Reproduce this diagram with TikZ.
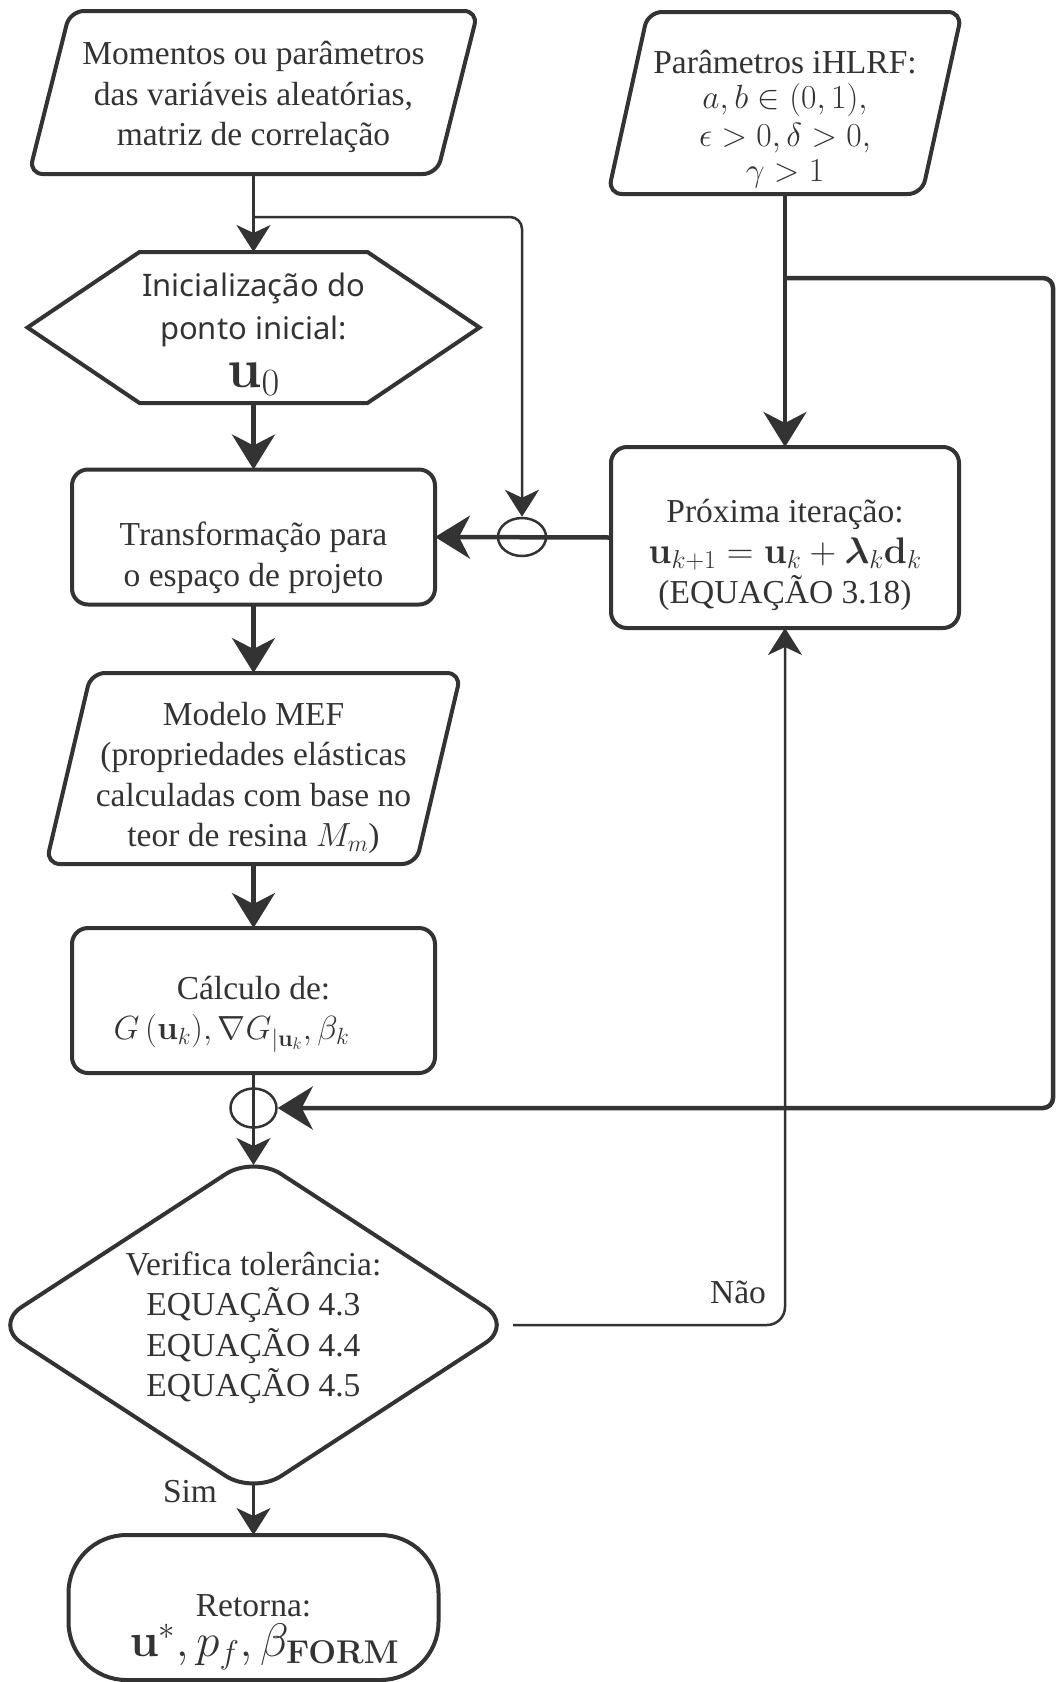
\RequirePackage{fix-cm}
\documentclass[tikz,border=0pt]{standalone}
\usepackage{amsmath,amssymb}
\usepackage[no-math]{fontspec}
\usepackage{bm}
\setmainfont{Liberation Serif}
\newfontfamily\hexfont{Noto Sans}
\usetikzlibrary{arrows.meta,shapes.geometric}
\definecolor{ln}{HTML}{333333}
\definecolor{tx}{HTML}{333333}
\newcommand\mathsz[2]{{\fontsize{#1}{#1}\selectfont$#2$}}
\begin{document}
\begin{tikzpicture}[x=1pt,y=-1pt,
 outline/.style={draw=ln,line width=4pt,line join=round},
 holder/.style={rectangle,inner sep=0pt,outer sep=0pt},
 boxr/.style={holder,draw=ln,line width=4pt,rounded corners=16pt},
 txt/.style={text=tx,align=center,inner sep=0pt,font=\fontsize{33.5pt}{40.5pt}\selectfont},
 thickc/.style={draw=ln,line width=4.5pt},
 thinc/.style={draw=ln,line width=2.5pt},
 bigtip/.style={-{Stealth[length=35pt,width=43pt,inset=11pt]}},
 smalltip/.style={-{Stealth[length=27pt,width=34pt,inset=8pt]}},
 junc/.style={ellipse,draw=ln,line width=2.5pt,inner sep=0pt},
]
\useasboundingbox (0,0) rectangle (1056,1682);

% input box 1
\node[holder,minimum width=408pt,minimum height=163pt] (b1) at (253.5,92.5) {};
\draw[outline,rounded corners=14pt] ([xshift=20.5pt]b1.north west) -- ([xshift=20.5pt]b1.north east) -- ([xshift=-20.5pt]b1.south east) -- ([xshift=-20.5pt]b1.south west) -- cycle;
\node[txt] (t1) at (253.5,97) {Momentos ou parâmetros\\das variáveis aleatórias,\\matriz de correlação};

% input box 2
\node[holder,minimum width=314pt,minimum height=182pt] (b2) at (785,103) {};
\draw[outline,rounded corners=14pt] ([xshift=20pt]b2.north west) -- ([xshift=20pt]b2.north east) -- ([xshift=-20pt]b2.south east) -- ([xshift=-20pt]b2.south west) -- cycle;
\node[txt,anchor=base] (t2a) at (785,73) {Parâmetros iHLRF:};
\node[txt,anchor=base] (t2b) at (785,108) {$a,b\in(0,1),$};
\node[txt,anchor=base] (t2c) at (785,146) {$\epsilon>0,\delta>0,$};
\node[txt,anchor=base] (t2d) at (785,181) {$\gamma>1$};

% hexagon
\node[holder,minimum width=452pt,minimum height=151pt] (hx) at (253.5,327.5) {};
\draw[outline,line join=miter] (hx.west) -- ([xshift=112pt]hx.north west) -- ([xshift=-112pt]hx.north east) -- (hx.east) -- ([xshift=-112pt]hx.south east) -- ([xshift=112pt]hx.south west) -- cycle;
\node[txt,font=\hexfont\fontsize{31pt}{43pt}\selectfont,anchor=base] (t3) at (253.5,339) {Inicialização do\\ponto inicial:};
\node[txt,anchor=base] (t3b) at (253.5,387) {\mathsz{55pt}{\mathbf{u}_0}};

% transformation
\node[boxr,minimum width=363pt,minimum height=135pt] (tr) at (253.5,537) {};
\node[txt] (t4) at (253.5,558) {Transformação para\\o espaço de projeto};

% next iteration
\node[boxr,minimum width=348pt,minimum height=181pt] (px) at (785,537.5) {};
\node[txt] (t5) at (785,555) {Próxima iteração:\\\mathsz{37pt}{\mathbf{u}_{k+1}=\mathbf{u}_k+\bm{\lambda}_k\mathbf{d}_k}\\(EQUAÇÃO 3.18)};

% MEF model
\node[holder,minimum width=370pt,minimum height=191pt] (mf) at (253.5,768.5) {};
\draw[outline,rounded corners=14pt] ([xshift=22.5pt]mf.north west) -- ([xshift=22.5pt]mf.north east) -- ([xshift=-22.5pt]mf.south east) -- ([xshift=-22.5pt]mf.south west) -- cycle;
\node[txt] (t6) at (253.5,778) {Modelo MEF\\(propriedades elásticas\\calculadas com base no\\teor de resina $M_m$)};

% calculation
\node[boxr,minimum width=363pt,minimum height=145pt] (cl) at (253.5,1000.5) {};
\node[txt] (t7) at (253.5,1014) {Cálculo de:\\$G\,(\mathbf{u}_k),\nabla G_{|\mathbf{u}_k},\beta_k$\kern44pt};

% diamond
\node[holder,minimum width=519pt,minimum height=338pt] (dm) at (253.5,1325) {};
\draw[outline,rounded corners=33pt] (dm.north) -- (dm.east) -- (dm.south) -- (dm.west) -- cycle;
\node[txt] (t8) at (253.5,1328) {Verifica tolerância:\\EQUAÇÃO 4.3\\EQUAÇÃO 4.4\\EQUAÇÃO 4.5};

% terminal
\node[holder,draw=ln,line width=4pt,rounded corners=58pt,minimum width=370pt,minimum height=145pt] (rt) at (253.5,1607.5) {};
\node[txt] (t9) at (253.5,1632) {Retorna:\\\kern22pt\mathsz{47pt}{\mathbf{u}^*,p_f,\beta_{\mathbf{FORM}}}};

% junctions
\node[junc,minimum width=48pt,minimum height=38pt] (c1) at (522,537) {};
\node[junc,minimum width=46pt,minimum height=39pt] (c2) at (253.5,1108) {};

% connectors
\draw[thinc,smalltip] (b1.south) -- (hx.north);
\coordinate (j1) at (253.5,217);
\draw[thinc,smalltip,rounded corners=12pt] (j1) -| (c1.north);
\draw[thickc,bigtip] (hx.south) -- (tr.north);
\draw[thickc,bigtip] (tr.south) -- (mf.north);
\draw[thickc,bigtip] (mf.south) -- (cl.north);
\coordinate (dtop) at ([yshift=-9pt]dm.north);
\draw[thinc,smalltip] (cl.south) -- (dtop);
\draw[thickc,bigtip] (b2.south) -- (px.north);
\coordinate (j2) at (785,278);
\coordinate (r1) at (1053,278);
\coordinate (r2) at (1053,1108);
\draw[thickc,bigtip,rounded corners=10pt] (j2) -- (r1) -- (r2) -- (c2.east);
\draw[thickc,bigtip] (px.west) -- (tr.east);
\draw[thinc,smalltip,rounded corners=18pt] (dm.east) -| (px.south);
\node[txt] (nao) at (738,1292) {Não};
\coordinate (dbot) at ([yshift=9pt]dm.south);
\draw[thinc,smalltip] (dbot) -- (rt.north);
\node[txt] (sim) at (190,1492) {Sim};
\end{tikzpicture}
\end{document}
